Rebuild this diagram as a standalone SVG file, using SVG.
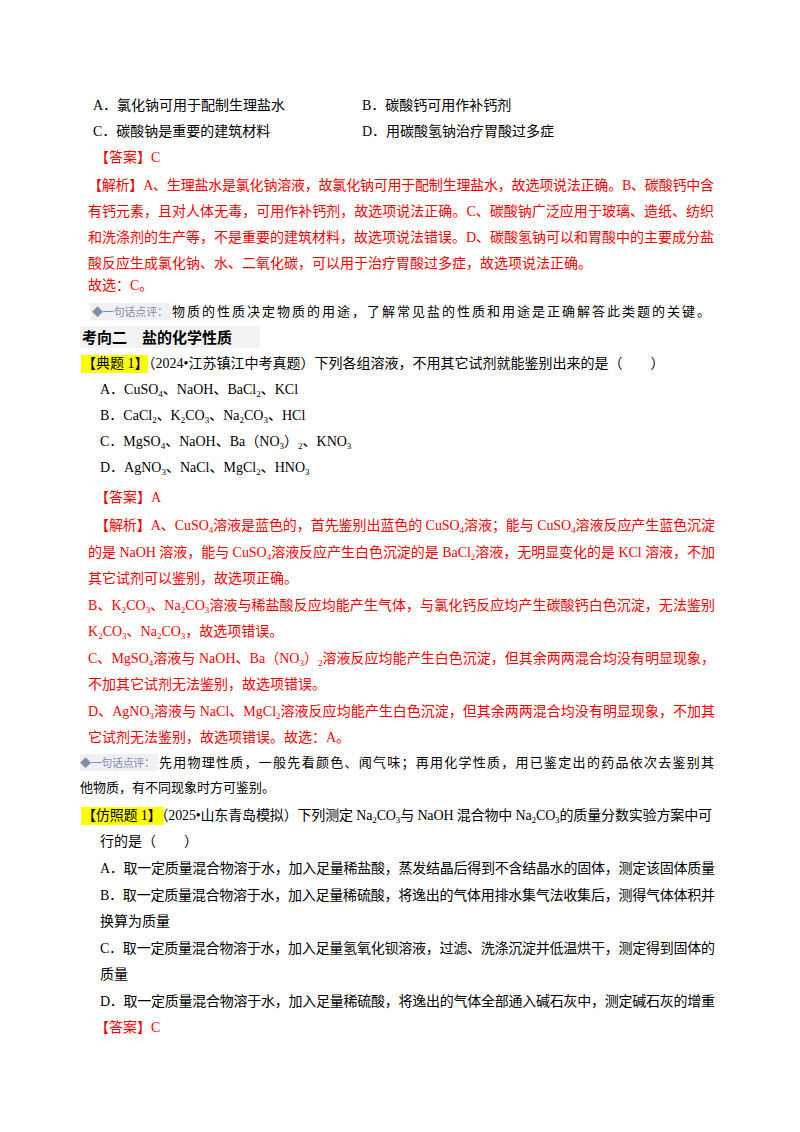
<svg xmlns="http://www.w3.org/2000/svg" width="800" height="1132" viewBox="0 0 800 1132">
<style>
text{font-family:"Liberation Serif","Noto Sans CJK SC",serif;font-size:14px;fill:#000}
.r{fill:#ff0000}
.h{font-family:"Noto Sans CJK SC",sans-serif;font-weight:bold;font-size:15px}
.p{fill:#7f8fa6;font-size:11px}
.q{font-size:13px}
.s{font-size:9px}
</style>
<rect width="800" height="1132" fill="#fff"/>
<g id="q1">
<text x="93" y="110">A．氯化钠可用于配制生理盐水</text>
<text x="362" y="110">B．碳酸钙可用作补钙剂</text>
<text x="93" y="136">C．碳酸钠是重要的建筑材料</text>
<text x="362" y="136">D．用碳酸氢钠治疗胃酸过多症</text>
<text x="95" y="162" class="r">【答案】C</text>
<text x="88" y="190" class="r" textLength="626">【解析】A、生理盐水是氯化钠溶液，故氯化钠可用于配制生理盐水，故选项说法正确。B、碳酸钙中含</text>
<text x="88" y="216" class="r" textLength="626">有钙元素，且对人体无毒，可用作补钙剂，故选项说法正确。C、碳酸钠广泛应用于玻璃、造纸、纺织</text>
<text x="88" y="242" class="r" textLength="626">和洗涤剂的生产等，不是重要的建筑材料，故选项说法错误。D、碳酸氢钠可以和胃酸中的主要成分盐</text>
<text x="88" y="268" class="r">酸反应生成氯化钠、水、二氧化碳，可以用于治疗胃酸过多症，故选项说法正确。</text>
<text x="88" y="290" class="r">故选：C。</text>
<rect x="90" y="303" width="80" height="17" fill="#eef0f4"/>
<text x="92" y="316" class="p" textLength="76">◆一句话点评：</text>
<text x="172" y="316" class="q" textLength="538">物质的性质决定物质的用途，了解常见盐的性质和用途是正确解答此类题的关键。</text>
</g>
<g id="section">
<rect x="80" y="326" width="180" height="22" fill="#f2f2f2"/>
<text x="82" y="343" class="h">考向二　盐的化学性质</text>
</g>
<g id="q2">
<rect x="81" y="355" width="67" height="18" fill="#ffff00"/>
<text x="82" y="368">【典题 1】（2024•江苏镇江中考真题）下列各组溶液，不用其它试剂就能鉴别出来的是（　　）</text>
<text x="100" y="394">A．CuSO<tspan class="s" dy="3">4</tspan><tspan dy="-3">、NaOH、BaCl</tspan><tspan class="s" dy="3">2</tspan><tspan dy="-3">、KCl</tspan></text>
<text x="100" y="420">B．CaCl<tspan class="s" dy="3">2</tspan><tspan dy="-3">、K</tspan><tspan class="s" dy="3">2</tspan><tspan dy="-3">CO</tspan><tspan class="s" dy="3">3</tspan><tspan dy="-3">、Na</tspan><tspan class="s" dy="3">2</tspan><tspan dy="-3">CO</tspan><tspan class="s" dy="3">3</tspan><tspan dy="-3">、HCl</tspan></text>
<text x="100" y="446">C．MgSO<tspan class="s" dy="3">4</tspan><tspan dy="-3">、NaOH、Ba（NO</tspan><tspan class="s" dy="3">3</tspan><tspan dy="-3">）</tspan><tspan class="s" dy="3">2</tspan><tspan dy="-3">、KNO</tspan><tspan class="s" dy="3">3</tspan></text>
<text x="100" y="472">D．AgNO<tspan class="s" dy="3">3</tspan><tspan dy="-3">、NaCl、MgCl</tspan><tspan class="s" dy="3">2</tspan><tspan dy="-3">、HNO</tspan><tspan class="s" dy="3">3</tspan></text>
<text x="95" y="502" class="r">【答案】A</text>
<text x="95" y="530" class="r" textLength="620">【解析】A、CuSO<tspan class="s" dy="3">4</tspan><tspan dy="-3">溶液是蓝色的，首先鉴别出蓝色的 CuSO</tspan><tspan class="s" dy="3">4</tspan><tspan dy="-3">溶液；能与 CuSO</tspan><tspan class="s" dy="3">4</tspan><tspan dy="-3">溶液反应产生蓝色沉淀</tspan></text>
<text x="88" y="557" class="r" textLength="627">的是 NaOH 溶液，能与 CuSO<tspan class="s" dy="3">4</tspan><tspan dy="-3">溶液反应产生白色沉淀的是 BaCl</tspan><tspan class="s" dy="3">2</tspan><tspan dy="-3">溶液，无明显变化的是 KCl 溶液，不加</tspan></text>
<text x="88" y="583" class="r">其它试剂可以鉴别，故选项正确。</text>
<text x="88" y="610" class="r" textLength="627">B、K<tspan class="s" dy="3">2</tspan><tspan dy="-3">CO</tspan><tspan class="s" dy="3">3</tspan><tspan dy="-3">、Na</tspan><tspan class="s" dy="3">2</tspan><tspan dy="-3">CO</tspan><tspan class="s" dy="3">3</tspan><tspan dy="-3">溶液与稀盐酸反应均能产生气体，与氯化钙反应均产生碳酸钙白色沉淀，无法鉴别</tspan></text>
<text x="88" y="636" class="r">K<tspan class="s" dy="3">2</tspan><tspan dy="-3">CO</tspan><tspan class="s" dy="3">3</tspan><tspan dy="-3">、Na</tspan><tspan class="s" dy="3">2</tspan><tspan dy="-3">CO</tspan><tspan class="s" dy="3">3</tspan><tspan dy="-3">，故选项错误。</tspan></text>
<text x="88" y="663" class="r" textLength="627">C、MgSO<tspan class="s" dy="3">4</tspan><tspan dy="-3">溶液与 NaOH、Ba（NO</tspan><tspan class="s" dy="3">3</tspan><tspan dy="-3">）</tspan><tspan class="s" dy="3">2</tspan><tspan dy="-3">溶液反应均能产生白色沉淀，但其余两两混合均没有明显现象，</tspan></text>
<text x="88" y="689" class="r">不加其它试剂无法鉴别，故选项错误。</text>
<text x="88" y="716" class="r" textLength="627">D、AgNO<tspan class="s" dy="3">3</tspan><tspan dy="-3">溶液与 NaCl、MgCl</tspan><tspan class="s" dy="3">2</tspan><tspan dy="-3">溶液反应均能产生白色沉淀，但其余两两混合均没有明显现象，不加其</tspan></text>
<text x="88" y="742" class="r">它试剂无法鉴别，故选项错误。故选：A。</text>
<rect x="80" y="754" width="78" height="17" fill="#eef0f4"/>
<text x="80" y="767" class="p" textLength="75">◆一句话点评：</text>
<text x="159" y="767" class="q" textLength="555">先用物理性质，一般先看颜色、闻气味；再用化学性质，用已鉴定出的药品依次去鉴别其</text>
<text x="80" y="792" class="q">他物质，有不同现象时方可鉴别。</text>
</g>
<g id="q3">
<rect x="81" y="807" width="83" height="18" fill="#ffff00"/>
<text x="82" y="820" textLength="630">【仿照题 1】（2025•山东青岛模拟）下列测定 Na<tspan class="s" dy="3">2</tspan><tspan dy="-3">CO</tspan><tspan class="s" dy="3">3</tspan><tspan dy="-3">与 NaOH 混合物中 Na</tspan><tspan class="s" dy="3">2</tspan><tspan dy="-3">CO</tspan><tspan class="s" dy="3">3</tspan><tspan dy="-3">的质量分数实验方案中可</tspan></text>
<text x="100" y="846">行的是（　　）</text>
<text x="100" y="873" textLength="615">A．取一定质量混合物溶于水，加入足量稀盐酸，蒸发结晶后得到不含结晶水的固体，测定该固体质量</text>
<text x="100" y="900" textLength="615">B．取一定质量混合物溶于水，加入足量稀硫酸，将逸出的气体用排水集气法收集后，测得气体体积并</text>
<text x="100" y="926">换算为质量</text>
<text x="100" y="953" textLength="615">C．取一定质量混合物溶于水，加入足量氢氧化钡溶液，过滤、洗涤沉淀并低温烘干，测定得到固体的</text>
<text x="100" y="979">质量</text>
<text x="100" y="1006" textLength="615">D．取一定质量混合物溶于水，加入足量稀硫酸，将逸出的气体全部通入碱石灰中，测定碱石灰的增重</text>
<text x="95" y="1032" class="r">【答案】C</text>
</g>
</svg>
